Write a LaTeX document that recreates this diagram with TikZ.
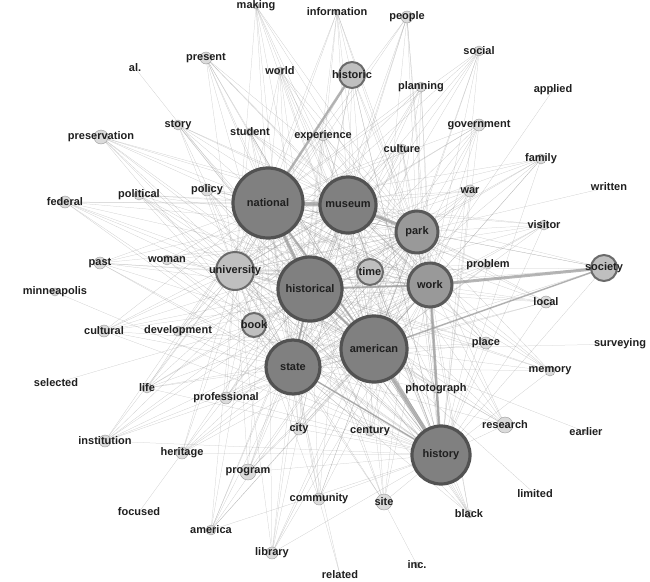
\documentclass[tikz,border=0pt]{standalone}
\usepackage{fontspec}
\setmainfont{Liberation Sans}
\usetikzlibrary{backgrounds}
\tikzset{
  big/.style={circle,fill=black!50,draw=black!68,line width=3.2pt,inner sep=0pt},
  bigl/.style={circle,fill=black!40,draw=black!65,line width=3pt,inner sep=0pt},
  mid/.style={circle,fill=black!25,draw=black!58,line width=2pt,inner sep=0pt},
  sml/.style={circle,fill=black!14,draw=black!40,line width=0.4pt,inner sep=0pt},
  non/.style={circle,inner sep=0pt},
  lbl/.style={font=\bfseries\fontsize{11}{12}\selectfont,text=black!88,inner sep=0pt},
  edge/.style={draw=black!45,line width=0.25pt,opacity=0.45},
  hedge/.style={draw=black!40,opacity=0.7},
}
\begin{document}
\begin{tikzpicture}[x=1pt,y=-1pt]
\useasboundingbox (0,0) rectangle (650,581);
\foreach \n/\t/\x/\y/\r/\c in {
making/making/256/6/3/sml, information/information/337/12/3/sml, people/people/407/17/6/sml,
social/social/479/51/5/sml, al/al./135/68/1/non, present/present/206/58/6/sml, world/world/280/71/4/sml,
historic/historic/352/75/13/mid, planning/planning/421/87/5/sml, applied/applied/553/90/2/sml,
story/story/178/125/5/sml, student/student/250/132/4/sml, experience/experience/323/136/5/sml,
preservation/preservation/101/137/7/sml, government/government/479/125/6/sml, culture/culture/402/149/5/sml,
family/family/541/159/5/sml, war/war/470/191/6/sml, written/written/609/187/1/non, policy/policy/207/190/6/sml,
political/political/139/195/5/sml, federal/federal/65/202/6/sml, national/national/268/203/35/big,
museum/museum/348/205/28/big, park/park/417/232/21/bigl, visitor/visitor/544/225/5/sml, past/past/100/263/6/sml,
woman/woman/167/260/5/sml, university/university/235/271/19/mid, time/time/370/272/13/mid,
problem/problem/488/265/4/sml, society/society/604/268/13/mid, minneapolis/minneapolis/55/292/4/sml,
historical/historical/310/289/32/big, work/work/430/285/22/bigl, local/local/546/302/6/sml,
cultural/cultural/104/331/6/sml, development/development/178/331/5/sml, book/book/254/325/12/mid,
american/american/374/349/33/big, place/place/486/343/6/sml, surveying/surveying/620/344/2/sml,
state/state/293/367/27/big, memory/memory/550/371/5/sml, selected/selected/56/383/1/non, life/life/147/388/5/sml,
photograph/photograph/436/389/4/sml, professional/professional/226/398/6/sml, research/research/505/425/8/sml,
earlier/earlier/586/432/2/sml, institution/institution/105/441/6/sml, city/city/299/429/6/sml,
century/century/370/431/5/sml, heritage/heritage/182/453/6/sml, history/history/441/455/29/big,
program/program/248/472/8/sml, limited/limited/535/494/1/non, community/community/319/499/6/sml,
site/site/384/502/8/sml, black/black/469/514/4/sml, focused/focused/139/512/1/non, america/america/211/530/5/sml,
library/library/272/553/6/sml, inc/inc./417/565/3/sml, related/related/340/575/1/non}
{ \node[\c,minimum size=2*\r] (\n) at (\x,\y) {};
  \node[lbl] at (\n.center) {\t}; }
\begin{scope}[on background layer]
\foreach \h in {national,museum,park,historical,work,american,state,history,university}
 \foreach \n in {making,information,people,social,present,world,historic,planning,story,student,experience,
 preservation,government,culture,family,war,policy,political,federal,national,museum,park,visitor,past,woman,
 university,time,problem,society,historical,work,local,cultural,development,book,american,place,state,memory,
 life,photograph,professional,research,institution,city,century,heritage,history,program,community,site,black,
 america,library}
 { \draw[edge] (\h.center) -- (\n.center); }
\draw[edge] (al.center) -- (historical.center);
\draw[edge] (applied.center) -- (american.center);
\draw[edge] (written.center) -- (park.center);
\draw[edge] (minneapolis.center) -- (history.center);
\draw[edge] (selected.center) -- (book.center);
\draw[edge] (surveying.center) -- (american.center);
\draw[edge] (earlier.center) -- (american.center);
\draw[edge] (limited.center) -- (american.center);
\draw[edge] (focused.center) -- (heritage.center);
\draw[edge] (inc.center) -- (site.center);
\draw[edge] (related.center) -- (state.center);
\draw[edge] (related.center) -- (community.center);
\draw[hedge,line width=4pt] (national.center) -- (museum.center);
\draw[hedge,line width=3pt] (museum.center) -- (park.center);
\draw[hedge,line width=3pt] (national.center) -- (historical.center);
\draw[hedge,line width=4pt] (american.center) -- (history.center);
\draw[hedge,line width=2.5pt] (national.center) -- (historic.center);
\draw[hedge,line width=2.5pt] (work.center) -- (history.center);
\draw[hedge,line width=3pt] (work.center) -- (society.center);
\draw[hedge,line width=2.5pt] (historical.center) -- (american.center);
\draw[hedge,line width=2pt] (historical.center) -- (state.center);
\draw[hedge,line width=2pt] (historical.center) -- (work.center);
\draw[hedge,line width=2pt] (national.center) -- (american.center);
\draw[hedge,line width=1.5pt] (american.center) -- (society.center);
\draw[hedge,line width=1.5pt] (state.center) -- (history.center);
\end{scope}
\end{tikzpicture}
\end{document}
